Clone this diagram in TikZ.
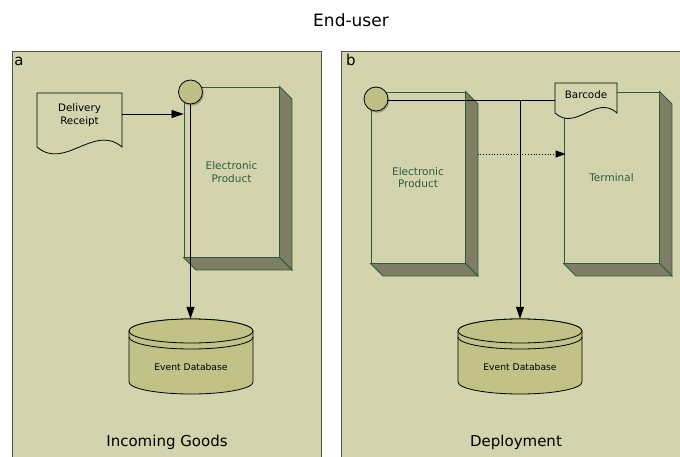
\documentclass[tikz,border=0pt]{standalone}
\usepackage{fontspec}
\setmainfont{DejaVu Sans}
\usetikzlibrary{arrows.meta}
\definecolor{panelbg}{HTML}{D3D3AD}
\definecolor{sidec}{HTML}{7E7E66}
\definecolor{boxgreen}{HTML}{2E5A38}
\definecolor{textgreen}{HTML}{2F5D3D}
\definecolor{circfill}{HTML}{C0C086}
\definecolor{dbfill}{HTML}{C2C288}
\definecolor{framec}{HTML}{505050}
\tikzset{
  boxfront/.style={rectangle, draw=boxgreen, line width=0.9pt, fill=panelbg, inner sep=0pt,
    text=textgreen, align=center, font=\fontsize{10.5}{12.5}\selectfont},
  boxside/.style={draw=boxgreen, line width=0.9pt, fill=sidec},
  docshape/.style={draw=black, line width=0.8pt, fill=panelbg},
  doctext/.style={inner sep=0pt, align=center, font=\fontsize{10.3}{13}\selectfont},
  anchorbox/.style={rectangle, inner sep=0pt, draw=none},
  port/.style={circle, draw=black, line width=0.8pt, fill=circfill, minimum size=24pt, inner sep=0pt},
  portshadow/.style={circle, fill=black, opacity=0.25, minimum size=24pt, inner sep=0pt},
  conn/.style={draw=black, line width=0.8pt},
  tip/.style={-{Triangle[length=12pt,width=8pt]}},
  dbline/.style={draw=black, line width=0.8pt, fill=dbfill},
  dbtext/.style={inner sep=0pt, font=\fontsize{9.2}{11}\selectfont},
  caption/.style={inner sep=0pt, font=\fontsize{15}{18}\selectfont},
}
\newcommand{\boxsides}[2]{%
  \draw[boxside] (#1.north east) -- ([shift={(#2,#2)}]#1.north east) -- ([shift={(#2,#2)}]#1.south east) -- (#1.south east) -- cycle;
  \draw[boxside] (#1.south west) -- (#1.south east) -- ([shift={(#2,#2)}]#1.south east) -- ([shift={(#2,#2)}]#1.south west) -- cycle;
}
% cylinder centred at x=#1
\newcommand{\cyl}[1]{%
  \begin{scope}[shift={(#1,0)}]
    \draw[dbline] (-62,331) -- (-62,382)
      .. controls (-62,388.63) and (-34.24,394) .. (0,394)
      .. controls (34.24,394) and (62,388.63) .. (62,382)
      -- (62,331)
      .. controls (62,324.37) and (34.24,319) .. (0,319)
      .. controls (-34.24,319) and (-62,324.37) .. (-62,331) -- cycle;
    \draw[dbline] (0,331) ellipse [x radius=62, y radius=12];
    \draw[line width=0.8pt] (-62,337)
      .. controls (-62,343.63) and (-34.24,349) .. (0,349)
      .. controls (34.24,349) and (62,343.63) .. (62,337);
  \end{scope}
}
\begin{document}
\begin{tikzpicture}[x=1pt,y=-1pt]
\useasboundingbox (0,0) rectangle (680,457);
\begin{scope}
\clip (0,0) rectangle (680,457);
% panels
\fill[panelbg] (12,52) rectangle (321,470);
\draw[framec, line width=1pt] (12,470) -- (12,52) -- (321,52) -- (321,470);
\fill[panelbg] (341,52) rectangle (690,470);
\draw[framec, line width=1pt] (341,470) -- (341,52) -- (690,52);

\node[font=\fontsize{17}{20}\selectfont, inner sep=0pt] (title) at (351,20) {End-user};
\node[caption] (la) at (19,61) {a};
\node[caption] (lb) at (351,60) {b};
\node[caption] (capa) at (167,442) {Incoming Goods};
\node[caption] (capb) at (516,442) {Deployment};

% ---------- panel a ----------
\node[boxfront, minimum width=95pt, minimum height=170pt] (epa) at (231.5,172) {Electronic\\Product};
\boxsides{epa}{12.5}

\draw[docshape] (37,93) -- (122,93) -- (122,147)
  .. controls (94,123) and (65,171) .. (37,147) -- cycle;
\node[anchorbox, minimum width=85pt, minimum height=42pt] (dr) at (79.5,114) {};
\node[doctext] (drtext) at (79.5,115.5) {Delivery\\Receipt};

\cyl{191}
\node[anchorbox, minimum width=124pt, minimum height=75pt] (dba) at (191,356.5) {};
\node[dbtext] (dbatext) at (191,367) {Event Database};

\draw[conn, tip] (dr.east) -- (dr.east -| epa.west);
\node[portshadow] (casha) at (191.8,93.8) {};
\node[anchorbox] (cac) at (190.5,92) {};
\draw[conn, tip] (cac.center) -- (cac.center |- dba.north);
\node[port] (ca) at (190.5,92) {};

% ---------- panel b ----------
\node[boxfront, minimum width=94pt, minimum height=171pt] (epb) at (418,177.5) {Electronic\\Product};
\boxsides{epb}{12.5}
\node[boxfront, minimum width=95pt, minimum height=171pt] (term) at (611.5,177.5) {Terminal};
\boxsides{term}{12.5}

\draw[docshape] (555,83) -- (617,83) -- (617,113)
  .. controls (596,94) and (576,132) .. (555,113) -- cycle;
\node[anchorbox, minimum width=62pt, minimum height=34pt] (bc) at (586,100) {};
\node[doctext] (bctext) at (586,94.5) {Barcode};

\cyl{520}
\node[anchorbox, minimum width=124pt, minimum height=75pt] (dbb) at (520,356.5) {};
\node[dbtext] (dbbtext) at (520,367) {Event Database};

\coordinate (j) at (520,100);
\coordinate (ds) at (477.5,154);
\draw[conn, dotted, -{Triangle[length=10pt,width=7pt]}] (ds) -- ([xshift=2pt]ds -| term.west);
\node[portshadow] (cbsha) at (377.3,100.8) {};
\node[anchorbox] (cbc) at (376,99.5) {};
\draw[conn] (cbc.center |- bc.west) -- (bc.west);
\draw[conn, tip] (j) -- (j |- dbb.north);
\node[port] (cb) at (376,99) {};
\end{scope}
\end{tikzpicture}
\end{document}
